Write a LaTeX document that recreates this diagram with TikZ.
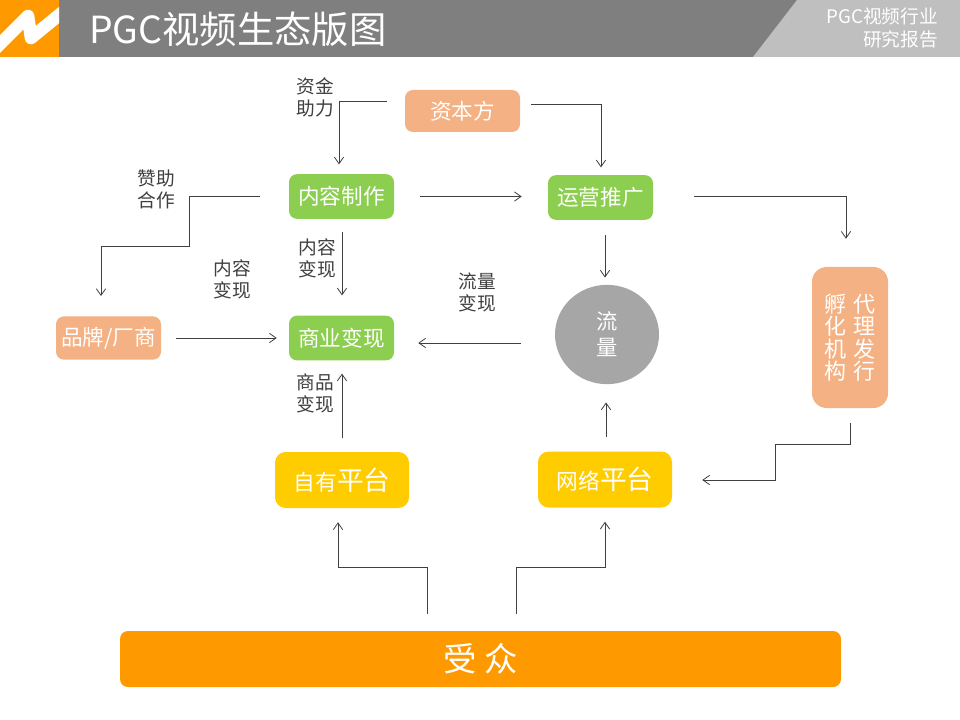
\documentclass[tikz,border=0pt]{standalone}
\usepackage{fontspec}
\usepackage{xcolor}
\usetikzlibrary{calc,arrows.meta,shapes.geometric}
\setmainfont{Noto Sans CJK SC}
\definecolor{hdrgray}{HTML}{7F7F7F}
\definecolor{hdrlight}{HTML}{BFBFBF}
\definecolor{brandorange}{HTML}{FF9900}
\definecolor{boxgreen}{HTML}{8CCE50}
\definecolor{boxsalmon}{HTML}{F4B183}
\definecolor{boxyellow}{HTML}{FFCC00}
\definecolor{flowgray}{HTML}{A6A6A6}
\definecolor{linegray}{HTML}{404040}
\newcommand{\boxfont}{\fontsize{16.2}{18}\selectfont}
\tikzset{
    box/.style={rounded corners=6pt, text=white, inner sep=0pt, align=center, font=\boxfont},
    greenbox/.style={box, fill=boxgreen, minimum width=78.75pt, minimum height=33.5pt},
    salmonbox/.style={box, fill=boxsalmon, minimum width=78.75pt, minimum height=32.5pt},
    yellowbox/.style={box, fill=boxyellow, minimum width=100.5pt, minimum height=42pt, rounded corners=8pt},
    edgelabel/.style={text=linegray, align=center, inner sep=0pt, font=\fontsize{14}{16.5}\selectfont},
    arrow/.style={draw=linegray, line width=.6pt, -{Straight Barb[length=5pt,width=7pt]}},
}
\begin{document}
\begin{tikzpicture}[x=.75pt, y=-.75pt]
                        \useasboundingbox (0,0) rectangle (960,720);
                        \fill[white] (0,0) rectangle (960,720);

                        % header
                        \fill[hdrgray] (0,0) rectangle (960,57);
                        \fill[hdrlight] (753,57) -- (797,0) -- (960,0) -- (960,57) -- cycle;
                        \fill[brandorange] (0,0) rectangle (59,57);
                        \begin{scope}
                            \clip (0,0) rectangle (59,57);
                            \draw[white, line width=9.5pt, line join=round] (-6,50) -- (28,16) -- (31,38) -- (64,11);
                        \end{scope}
                        \node[text=white, anchor=west, inner sep=0pt, font=\fontsize{28}{32}\selectfont] (title) at (89,29) {PGC视频生态版图};
                        \node[text=white, anchor=east, align=right, inner sep=0pt, font=\fontsize{14}{17.25}\selectfont] (subtitle) at (938,28) {PGC视频行业\\研究报告};

                        % boxes
                        \node[salmonbox, minimum height=31.5pt, minimum width=86.25pt] (capital) at (462.5,111) {资本方};
                        \node[greenbox] (content) at (341.5,196.5) {内容制作};
                        \node[greenbox] (ops) at (600.5,197.5) {运营推广};
                        \node[salmonbox] (brand) at (108.5,338) {品牌/厂商};
                        \node[greenbox] (biz) at (341.5,338) {商业变现};
                        \node[ellipse, fill=flowgray, text=white, minimum width=78pt, minimum height=74.5pt, inner sep=0pt, align=center, font=\fontsize{16}{19.5}\selectfont] (flow) at (607,334.5) {流\\量};
                        \node[box, fill=boxsalmon, minimum width=57pt, minimum height=105.75pt, rounded corners=11pt, font=\fontsize{16.5}{16.75}\selectfont] (incub) at (850,337.5) {孵\hspace{5.25pt}代\\化\hspace{5.25pt}理\\机\hspace{5.25pt}发\\构\hspace{5.25pt}行};
                        \node[yellowbox] (self) at (342,480) {\fontsize{16.3}{20}\selectfont 自有\fontsize{20}{20}\selectfont 平台};
                        \node[yellowbox] (net) at (605,479.5) {\fontsize{16.3}{20}\selectfont 网络\fontsize{20}{20}\selectfont 平台};
                        \node[box, fill=brandorange, minimum width=540.75pt, minimum height=42pt, font=\fontsize{25}{28}\selectfont] (audience) at (480.5,659) {受 众};

                        % labels
                        \node[edgelabel] (l1) at (315,97) {资金\\助力};
                        \node[edgelabel] (l2) at (156,189) {赞助\\合作};
                        \node[edgelabel] (l3) at (317,258) {内容\\变现};
                        \node[edgelabel] (l4) at (232,279.5) {内容\\变现};
                        \node[edgelabel] (l5) at (477,292.5) {流量\\变现};
                        \node[edgelabel] (l6) at (315,393) {商品\\变现};

                        % connectors
                        \draw[arrow] ($(capital.west)+(-18,-10)$) -| ($(content.north)+(-2.5,-9.5)$);
                        \draw[arrow] ($(capital.east)+(11,-7)$) -| ($(ops.north)+(.5,-7.5)$);
                        \draw[arrow] ($(content.east)+(26,0)$) -- ($(ops.west)+(-26,-1)$);
                        \draw[arrow] ($(ops.east)+(41,-1)$) -| ($(incub.north)+(-4,-28)$);
                        \draw[arrow] ($(content.west)+(-29,0)$) -- ++(-70,0) -- ++(0,50) -| ($(brand.north)+(-7.5,-20)$);
                        \draw[arrow] ($(content.south)+(.5,13)$) -- ($(biz.north)+(.5,-20)$);
                        \draw[arrow] ($(brand.east)+(15,0)$) -- ($(biz.west)+(-12,0)$);
                        \draw[arrow] ($(flow.west)+(-34,8.5)$) -- ($(biz.east)+(24,5)$);
                        \draw[arrow] ($(ops.south)+(4.5,15)$) -- ($(flow.north)+(-2,-7)$);
                        \draw[arrow] ($(net.north)+(1,-14)$) -- ($(flow.south)+(-1,18)$);
                        \draw[arrow] ($(self.north)+(0,-14)$) -- ($(biz.south)+(.5,13)$);
                        \draw[arrow] ($(incub.south)+(0,15)$) -- ++(0,21) -- ++(-75,0) |- ($(net.east)+(30,.5)$);
                        \draw[arrow] ($(audience.north)+(-53.5,-17)$) |- ++(-89,-46) -- ($(self.south)+(-4,14)$);
                        \draw[arrow] ($(audience.north)+(35.5,-17)$) |- ++(89,-46) -- ($(net.south)+(0,14)$);
                    \end{tikzpicture}
\end{document}
